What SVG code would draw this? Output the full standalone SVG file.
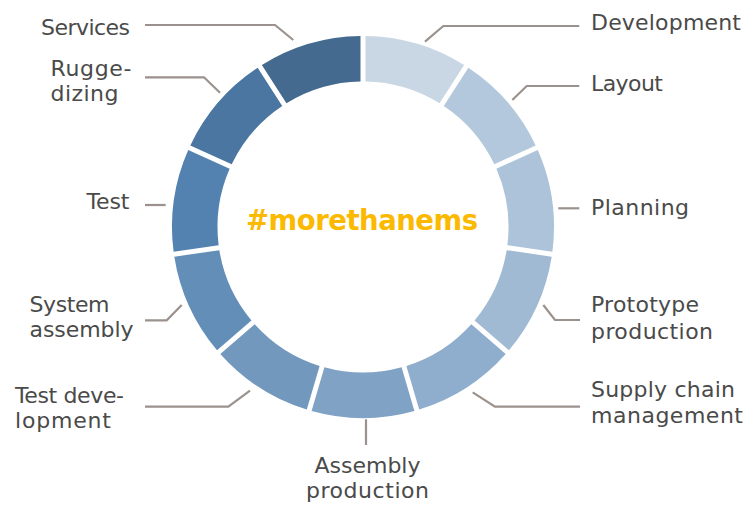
<svg xmlns="http://www.w3.org/2000/svg" xmlns:xlink="http://www.w3.org/1999/xlink" width="747" height="505" viewBox="0 0 747 505">
<style>
.lbl{font-family:"DejaVu Sans","Liberation Sans",sans-serif;font-size:22px;fill:#4a4a4a}
.hash{font-family:"DejaVu Sans","Liberation Sans",sans-serif;font-size:27.5px;font-weight:bold;fill:#fbb900}
.con{fill:none;stroke:#9b928d;stroke-width:2.2}
</style>
<defs>
<path id="seg" d="M365.50 36.02 A191 191 0 0 1 464.15 64.98 L439.55 103.26 A145.5 145.5 0 0 0 365.50 81.52 Z"/>
</defs>
<rect width="747" height="505" fill="#ffffff"/>
<g id="connectors" class="con">
<path d="M425 41.7 L443.3 26 H579.3"/>
<path d="M512.3 100 L526.7 86 H579.3"/>
<path d="M558.3 208.3 H579.3"/>
<path d="M543.3 305 L555 320 H580"/>
<path d="M472.7 392.3 L495 406.7 H580"/>
<path d="M366 419.3 V445"/>
<path d="M145 406.7 H228.3 L250 390.7"/>
<path d="M145 320.3 H166.7 L181.7 305"/>
<path d="M145 205 H165.7"/>
<path d="M145 77.3 H204 L220 92.7"/>
<path d="M145 25 H275 L293.3 40"/>
</g>
<g id="development">
<use xlink:href="#seg" href="#seg" fill="#c9d7e5"/>
<text class="lbl" x="591" y="30" textLength="150">Development</text>
</g>
<g id="layout">
<use xlink:href="#seg" href="#seg" fill="#b3c8dc" transform="rotate(32.7273 363 227)"/>
<text class="lbl" x="591" y="90.7" textLength="72">Layout</text>
</g>
<g id="planning">
<use xlink:href="#seg" href="#seg" fill="#adc3da" transform="rotate(65.4545 363 227)"/>
<text class="lbl" x="591" y="215" textLength="98">Planning</text>
</g>
<g id="prototype">
<use xlink:href="#seg" href="#seg" fill="#a1bad4" transform="rotate(98.1818 363 227)"/>
<text class="lbl" x="591" y="312.3" textLength="108">Prototype</text>
<text class="lbl" x="591" y="339" textLength="122">production</text>
</g>
<g id="supply">
<use xlink:href="#seg" href="#seg" fill="#8fadcc" transform="rotate(130.9091 363 227)"/>
<text class="lbl" x="591" y="396.7" textLength="144">Supply chain</text>
<text class="lbl" x="591" y="423.3" textLength="152">management</text>
</g>
<g id="assembly">
<use xlink:href="#seg" href="#seg" fill="#80a2c5" transform="rotate(163.6364 363 227)"/>
<text class="lbl" x="314.5" y="472.7" textLength="106">Assembly</text>
<text class="lbl" x="306" y="498.3" textLength="123">production</text>
</g>
<g id="testdev">
<use xlink:href="#seg" href="#seg" fill="#7298be" transform="rotate(196.3636 363 227)"/>
<text class="lbl" x="15" y="402.7" textLength="109">Test deve-</text>
<text class="lbl" x="15" y="428.3" textLength="96">lopment</text>
</g>
<g id="system">
<use xlink:href="#seg" href="#seg" fill="#638eb8" transform="rotate(229.0909 363 227)"/>
<text class="lbl" x="29.5" y="311.7" textLength="80">System</text>
<text class="lbl" x="29.5" y="337.3" textLength="104">assembly</text>
</g>
<g id="test">
<use xlink:href="#seg" href="#seg" fill="#5381b0" transform="rotate(261.8182 363 227)"/>
<text class="lbl" x="86.5" y="209" textLength="43">Test</text>
</g>
<g id="ruggedizing">
<use xlink:href="#seg" href="#seg" fill="#4a76a1" transform="rotate(294.5455 363 227)"/>
<text class="lbl" x="50.5" y="76" textLength="81">Rugge-</text>
<text class="lbl" x="50.5" y="101" textLength="68">dizing</text>
</g>
<g id="services">
<use xlink:href="#seg" href="#seg" fill="#456a8f" transform="rotate(327.2727 363 227)"/>
<text class="lbl" x="41" y="35" textLength="89">Services</text>
</g>
<g id="center">
<text class="hash" x="246" y="230" textLength="232">#morethanems</text>
</g>
</svg>
